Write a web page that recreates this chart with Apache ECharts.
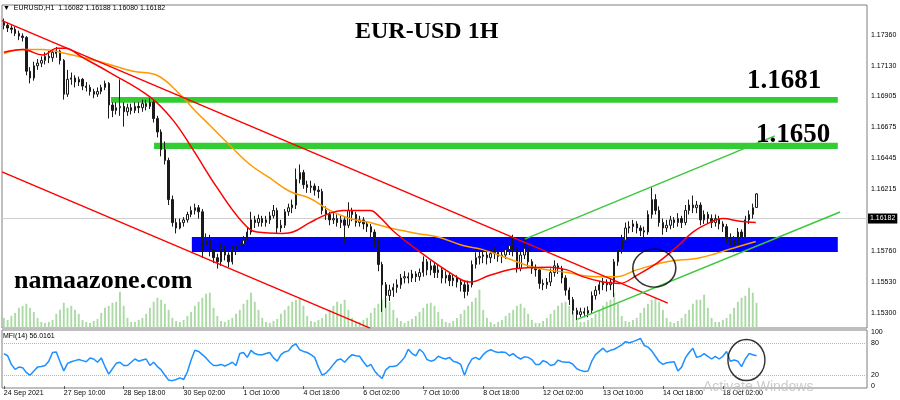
<!DOCTYPE html>
<html><head><meta charset="utf-8">
<script src="https://cdn.jsdelivr.net/npm/echarts@6/dist/echarts.min.js"></script>
<style>html,body{margin:0;padding:0;background:#fff}#c{width:900px;height:400px}</style>
</head><body><div id="c"></div>
<script>
// ---------- data ----------
const slotCount = 231;            // 2-hour slots on the time axis (incl. empty right shift)
const timeLabelStep = 16;         // a time label every 16 slots (32 hours)
const timeLabels = ["24 Sep 2021","27 Sep 10:00","28 Sep 18:00","30 Sep 02:00","1 Oct 10:00","4 Oct 18:00","6 Oct 02:00","7 Oct 10:00","8 Oct 18:00","12 Oct 02:00","13 Oct 10:00","14 Oct 18:00","18 Oct 02:00"];
const priceTicks = [1.17360,1.17130,1.16905,1.16675,1.16445,1.16215,1.15990,1.15760,1.15530,1.15300];
const priceMin = 1.1519, priceMax = 1.1758;
const mfiTicks = [0,20,80,100];
const headerText = "\u25BC  EURUSD,H1  1.16082 1.16188 1.16080 1.16182";
const mfiText = "MFI(14) 56.0161";
const lastPrice = 1.16182;

// [open, close, low, high]
const candles = [
[1.1745,1.1743,1.1740,1.1748],[1.1743,1.1741,1.1738,1.1745],[1.1741,1.1740,1.1737,1.1743],[1.1740,1.1737,1.1735,1.1742],
[1.1737,1.1735,1.1732,1.1739],[1.1735,1.1734,1.1731,1.1737],[1.1734,1.1709,1.1706,1.1735],[1.1709,1.1704,1.1700,1.1712],
[1.1704,1.1713,1.1702,1.1716],[1.1713,1.1715,1.1710,1.1718],[1.1715,1.1717,1.1712,1.1720],[1.1717,1.1720,1.1714,1.1723],
[1.1720,1.1719,1.1715,1.1724],[1.1719,1.1723,1.1716,1.1725],[1.1722,1.1724,1.1719,1.1727],[1.1724,1.1717,1.1714,1.1725],
[1.1717,1.1692,1.1688,1.1718],[1.1692,1.1703,1.1690,1.1710],[1.1703,1.1704,1.1699,1.1708],[1.1704,1.1701,1.1697,1.1706],
[1.1701,1.1703,1.1698,1.1705],[1.1703,1.1698,1.1695,1.1704],[1.1698,1.1697,1.1694,1.1701],[1.1697,1.1694,1.1691,1.1699],
[1.1694,1.1692,1.1689,1.1696],[1.1692,1.1694,1.1690,1.1697],[1.1694,1.1697,1.1692,1.1699],[1.1697,1.1700,1.1695,1.1702],
[1.1700,1.1684,1.1674,1.1701],[1.1684,1.1680,1.1675,1.1686],[1.1680,1.1682,1.1677,1.1686],[1.1682,1.1683,1.1676,1.1703],
[1.1683,1.1679,1.1668,1.1686],[1.1679,1.1682,1.1676,1.1685],[1.1682,1.1680,1.1677,1.1685],[1.1680,1.1683,1.1678,1.1686],
[1.1683,1.1682,1.1678,1.1686],[1.1682,1.1685,1.1679,1.1688],[1.1685,1.1683,1.1680,1.1688],[1.1683,1.1686,1.1681,1.1689],
[1.1686,1.1674,1.1671,1.1688],[1.1674,1.1664,1.1660,1.1676],[1.1664,1.1651,1.1646,1.1666],[1.1651,1.1643,1.1640,1.1657],
[1.1643,1.1614,1.1610,1.1645],[1.1614,1.1597,1.1594,1.1617],[1.1597,1.1593,1.1589,1.1600],[1.1593,1.1597,1.1592,1.1600],
[1.1597,1.1599,1.1594,1.1601],[1.1599,1.1603,1.1597,1.1605],[1.1603,1.1606,1.1601,1.1609],[1.1606,1.1608,1.1603,1.1611],
[1.1608,1.1605,1.1600,1.1610],[1.1605,1.1580,1.1571,1.1607],[1.1580,1.1584,1.1576,1.1589],[1.1584,1.1577,1.1572,1.1588],
[1.1577,1.1571,1.1567,1.1580],[1.1571,1.1568,1.1563,1.1574],[1.1568,1.1578,1.1565,1.1582],[1.1578,1.1573,1.1569,1.1580],
[1.1573,1.1568,1.1564,1.1575],[1.1568,1.1577,1.1566,1.1580],[1.1577,1.1580,1.1573,1.1583],[1.1580,1.1581,1.1576,1.1584],
[1.1581,1.1584,1.1578,1.1587],[1.1584,1.1590,1.1580,1.1593],[1.1590,1.1599,1.1588,1.1605],[1.1599,1.1597,1.1593,1.1602],
[1.1597,1.1600,1.1594,1.1603],[1.1600,1.1597,1.1594,1.1602],[1.1597,1.1599,1.1594,1.1602],[1.1599,1.1602,1.1596,1.1605],
[1.1602,1.1606,1.1600,1.1610],[1.1606,1.1593,1.1589,1.1608],[1.1593,1.1595,1.1590,1.1599],[1.1595,1.1605,1.1593,1.1607],
[1.1605,1.1608,1.1602,1.1611],[1.1608,1.1610,1.1604,1.1614],[1.1610,1.1629,1.1607,1.1637],[1.1629,1.1634,1.1626,1.1640],
[1.1634,1.1625,1.1622,1.1636],[1.1625,1.1623,1.1619,1.1628],[1.1623,1.1624,1.1619,1.1628],[1.1624,1.1621,1.1617,1.1626],
[1.1621,1.1620,1.1615,1.1624],[1.1620,1.1606,1.1603,1.1622],[1.1606,1.1603,1.1599,1.1609],[1.1603,1.1599,1.1595,1.1605],
[1.1599,1.1600,1.1596,1.1604],[1.1600,1.1597,1.1594,1.1603],[1.1597,1.1599,1.1593,1.1602],[1.1599,1.1595,1.1582,1.1601],
[1.1595,1.1606,1.1593,1.1612],[1.1606,1.1603,1.1598,1.1608],[1.1603,1.1597,1.1594,1.1605],[1.1597,1.1599,1.1594,1.1602],
[1.1599,1.1596,1.1592,1.1601],[1.1596,1.1594,1.1590,1.1598],[1.1594,1.1590,1.1586,1.1596],[1.1590,1.1583,1.1579,1.1592],
[1.1583,1.1566,1.1561,1.1585],[1.1566,1.1551,1.1531,1.1568],[1.1551,1.1543,1.1534,1.1553],[1.1543,1.1547,1.1539,1.1551],
[1.1547,1.1549,1.1542,1.1552],[1.1549,1.1551,1.1545,1.1555],[1.1551,1.1556,1.1548,1.1559],[1.1556,1.1557,1.1552,1.1561],
[1.1557,1.1556,1.1552,1.1560],[1.1556,1.1559,1.1553,1.1562],[1.1559,1.1557,1.1553,1.1561],[1.1557,1.1560,1.1554,1.1563],
[1.1560,1.1568,1.1557,1.1572],[1.1568,1.1562,1.1558,1.1570],[1.1562,1.1565,1.1558,1.1569],[1.1565,1.1560,1.1556,1.1568],
[1.1560,1.1562,1.1556,1.1566],[1.1562,1.1556,1.1552,1.1564],[1.1556,1.1558,1.1552,1.1561],[1.1558,1.1554,1.1550,1.1560],
[1.1554,1.1556,1.1550,1.1559],[1.1556,1.1553,1.1549,1.1558],[1.1553,1.1551,1.1546,1.1555],[1.1551,1.1546,1.1541,1.1553],
[1.1546,1.1551,1.1543,1.1554],[1.1551,1.1566,1.1549,1.1569],[1.1566,1.1571,1.1563,1.1575],[1.1571,1.1572,1.1566,1.1576],
[1.1572,1.1573,1.1567,1.1577],[1.1573,1.1571,1.1566,1.1576],[1.1571,1.1574,1.1567,1.1577],[1.1574,1.1575,1.1570,1.1579],
[1.1575,1.1572,1.1568,1.1578],[1.1572,1.1573,1.1567,1.1577],[1.1573,1.1577,1.1570,1.1580],[1.1577,1.1580,1.1573,1.1584],
[1.1580,1.1577,1.1572,1.1588],[1.1577,1.1563,1.1560,1.1579],[1.1563,1.1573,1.1561,1.1576],[1.1573,1.1578,1.1570,1.1586],
[1.1578,1.1568,1.1564,1.1580],[1.1568,1.1563,1.1559,1.1570],[1.1563,1.1562,1.1557,1.1566],[1.1562,1.1552,1.1548,1.1564],
[1.1552,1.1551,1.1547,1.1555],[1.1551,1.1553,1.1548,1.1556],[1.1553,1.1560,1.1550,1.1563],[1.1560,1.1565,1.1557,1.1569],
[1.1565,1.1563,1.1559,1.1567],[1.1563,1.1556,1.1552,1.1565],[1.1556,1.1547,1.1543,1.1558],[1.1547,1.1540,1.1536,1.1549],
[1.1540,1.1532,1.1529,1.1542],[1.1532,1.1529,1.1525,1.1534],[1.1529,1.1531,1.1527,1.1534],[1.1531,1.1530,1.1527,1.1534],
[1.1530,1.1532,1.1527,1.1535],[1.1532,1.1543,1.1530,1.1546],[1.1543,1.1547,1.1540,1.1550],[1.1547,1.1551,1.1544,1.1554],
[1.1551,1.1553,1.1547,1.1556],[1.1553,1.1551,1.1546,1.1555],[1.1551,1.1553,1.1547,1.1556],[1.1553,1.1568,1.1542,1.1570],
[1.1568,1.1577,1.1565,1.1580],[1.1577,1.1584,1.1574,1.1588],[1.1584,1.1593,1.1582,1.1597],[1.1593,1.1594,1.1589,1.1598],
[1.1594,1.1596,1.1590,1.1599],[1.1596,1.1593,1.1589,1.1598],[1.1593,1.1591,1.1587,1.1595],[1.1591,1.1590,1.1585,1.1594],
[1.1590,1.1603,1.1588,1.1606],[1.1603,1.1614,1.1600,1.1623],[1.1614,1.1606,1.1603,1.1618],[1.1606,1.1597,1.1594,1.1609],
[1.1597,1.1593,1.1588,1.1600],[1.1593,1.1595,1.1590,1.1599],[1.1595,1.1599,1.1592,1.1602],[1.1599,1.1597,1.1593,1.1601],
[1.1597,1.1600,1.1594,1.1604],[1.1600,1.1597,1.1593,1.1602],[1.1597,1.1606,1.1595,1.1610],[1.1606,1.1610,1.1603,1.1614],
[1.1610,1.1608,1.1604,1.1617],[1.1608,1.1610,1.1604,1.1613],[1.1610,1.1599,1.1595,1.1612],[1.1599,1.1603,1.1596,1.1606],
[1.1603,1.1600,1.1596,1.1605],[1.1600,1.1597,1.1593,1.1603],[1.1597,1.1600,1.1594,1.1603],[1.1600,1.1596,1.1592,1.1602],
[1.1596,1.1594,1.1590,1.1598],[1.1594,1.1586,1.1582,1.1596],[1.1586,1.1584,1.1580,1.1589],[1.1584,1.1580,1.1575,1.1587],
[1.1580,1.1590,1.1577,1.1593],[1.1590,1.1586,1.1580,1.1592],[1.1586,1.1599,1.1584,1.1602],[1.1599,1.1603,1.1596,1.1606],
[1.1603,1.1608,1.1600,1.1611],[1.16082,1.16182,1.16080,1.16188]
];

const volumes = [
10,8,12,15,20,22,24,20,16,10,6,
5,6,8,14,18,25,20,22,18,14,8,6,
5,7,9,15,20,22,25,26,36,22,10,6,
6,8,10,14,20,26,30,28,24,18,10,7,
6,8,12,16,22,26,30,34,35,20,12,7,
6,8,10,14,18,24,28,35,26,18,10,6,
5,7,9,14,18,22,26,28,30,22,12,7,
6,8,10,14,18,22,26,24,28,18,10,6,
6,8,10,15,20,24,28,30,26,18,10,7,
5,7,9,12,16,20,24,25,22,16,9,6,
5,7,10,14,18,22,26,30,38,18,10,6,
4,6,8,12,15,18,22,24,20,14,8,5,
5,7,10,14,18,22,25,26,22,16,10,6,
6,8,10,14,18,22,26,28,35,24,12,7,
6,8,10,15,20,24,28,30,26,18,10,6,
5,7,10,14,18,24,28,28,33,20,10,6,
6,8,10,14,20,26,30,32,40,35,25
];

const mfi = [
60,56,40,31,35,34,25,20,28,35,36,38,46,62,63,45,28,42,45,47,
49,47,45,52,50,44,52,36,22,32,42,44,38,38,44,50,46,48,50,38,
44,36,30,20,11,10,12,15,12,26,48,66,64,58,52,44,38,38,40,37,
40,44,38,60,62,53,66,60,58,58,60,62,52,46,58,63,65,74,78,67,
64,62,58,53,35,20,24,31,40,48,50,44,52,58,56,55,45,36,40,28,
20,14,30,36,36,38,45,53,68,60,56,68,62,49,46,48,55,52,50,53,
46,44,40,20,38,50,53,49,58,64,67,64,62,63,62,56,60,54,50,54,
53,49,40,40,47,44,38,40,48,45,44,44,40,32,29,27,28,46,58,64,
70,63,66,68,72,76,82,80,82,85,88,75,72,65,55,45,40,43,44,45,
28,35,52,62,70,53,55,60,55,50,55,50,55,64,46,48,46,36,50,60,
58,56
];

// moving averages: [slot, price]
const maFast = [[0,1.1723],[5.1,1.1725],[10.4,1.1721],[14.2,1.1726],[16.3,1.1726],[21.1,1.1719],[28.3,1.1708],[39,1.1690],
[45.1,1.1673],[50.5,1.1651],[56.9,1.1623],[63.8,1.1597],[67.6,1.1590],[74.5,1.1589],[77.2,1.1590],[81.7,1.1597],[87.1,1.1604],
[90.5,1.1606],[97.8,1.1606],[100.4,1.1601],[103.9,1.1591],[110.3,1.1577],[119.1,1.1560],[124.5,1.1553],[129.8,1.1558],
[137,1.1563],[145.8,1.1564],[150.4,1.1562],[154.6,1.1557],[160,1.1553],[164.5,1.1552],[169,1.1558],[174.4,1.1567],
[179.7,1.1579],[184,1.1590],[188.5,1.1597],[192,1.1600],[196.6,1.1598],[200.8,1.1597]];
const maSlow = [[0,1.1722],[5.1,1.1725],[10.4,1.1725],[15,1.1723],[25.7,1.1716],[34.5,1.1709],[40.9,1.1706],[47,1.1692],
[51,1.1680],[55,1.1669],[60.4,1.1654],[65.7,1.1640],[71,1.1630],[76.4,1.1620],[81.7,1.1615],[87.1,1.1606],[92.4,1.1600],
[97.8,1.1597],[103.1,1.1593],[110.3,1.1589],[116.4,1.1586],[122.6,1.1580],[127.9,1.1577],[137,1.1568],[141.3,1.1564],
[150.4,1.1560],[158.4,1.1557],[163.7,1.1557],[169,1.1562],[177.1,1.1568],[185.9,1.1571],[194.7,1.1578],[200.8,1.1583]];

// trend lines: [slot, price]
const redChannelUpper = [[-0.5,1.17464],[177.3,1.15374]];
const redChannelLower = [[-0.5,1.16345],[97.8,1.15189]];
const greenChannelUpper = [[139.1,1.15848],[205.9,1.16612]];
const greenChannelLower = [[153.3,1.15256],[223.3,1.16048]];

// zones: [fromSlot, toSlot, lowPrice, highPrice]
const resistance1681 = [28.6,222.7,1.16856,1.16900];
const resistance1650 = [40.1,222.7,1.16515,1.16560];
const supportZone = [50.2,222.7,1.15752,1.15863];

// circled spots
const circledPrice = [[173.7,1.15633]];
const circledMfi = [[198.3,48]];

// ---------- chart ----------
const slots = Array.from({length: slotCount}, (_, i) => String(i));
const isLabelSlot = i => i % timeLabelStep === 0 && (i / timeLabelStep) < timeLabels.length;
const zone = (z, color) => [{coord:[z[0], z[3]], itemStyle:{color}}, {coord:[z[1], z[2]]}];
const FONT = 'Liberation Sans, Arial, sans-serif';
const SERIF = 'Liberation Serif, Times New Roman, serif';

const chart = echarts.init(document.getElementById('c'), null, {renderer: 'canvas'});
chart.setOption({
  animation: false,
  backgroundColor: '#ffffff',
  textStyle: {fontFamily: FONT},
  title: [
    {text: headerText, left: 3, top: 5, padding: 0, textStyle: {fontSize: 7, fontWeight: 'normal', color: '#000', fontFamily: FONT}},
    {text: 'EUR-USD 1H', left: 355, top: 20, padding: 0, textStyle: {fontSize: 24, fontWeight: 'bold', color: '#000', fontFamily: SERIF}},
    {text: '1.1681', left: 747, top: 68, padding: 0, textStyle: {fontSize: 27, fontWeight: 'bold', color: '#000', fontFamily: SERIF}},
    {text: '1.1650', left: 756, top: 122, padding: 0, textStyle: {fontSize: 27, fontWeight: 'bold', color: '#000', fontFamily: SERIF}},
    {text: 'namaazone.com', left: 14, top: 268, padding: 0, textStyle: {fontSize: 26, fontWeight: 'bold', color: '#000', fontFamily: SERIF}},
    {text: mfiText, left: 3, top: 333, padding: 0, textStyle: {fontSize: 7, fontWeight: 'normal', color: '#000', fontFamily: FONT}},
    {text: 'Activate Windows', left: 703, top: 380, padding: 0, textStyle: {fontSize: 14, fontWeight: 'normal', color: 'rgba(190,190,190,0.8)', fontFamily: FONT}}
  ],
  grid: [
    {left: 2, right: 33, top: 5, height: 323, show: true, borderColor: '#7f7f7f', borderWidth: 1, backgroundColor: 'transparent'},
    {left: 2, right: 33, top: 330, height: 58, show: true, borderColor: '#7f7f7f', borderWidth: 1, backgroundColor: 'transparent'}
  ],
  xAxis: [
    {type: 'category', gridIndex: 0, data: slots, boundaryGap: true, axisLine: {show: false}, axisTick: {show: false}, axisLabel: {show: false}, splitLine: {show: false}},
    {type: 'value', gridIndex: 0, min: -0.5, max: slotCount - 0.5, show: false},
    {type: 'category', gridIndex: 1, data: slots, boundaryGap: true, axisLine: {show: false},
      axisTick: {show: true, alignWithLabel: true, interval: i => isLabelSlot(i), length: 3, lineStyle: {color: '#555'}},
      axisLabel: {interval: i => isLabelSlot(i), formatter: (v, i) => timeLabels[Math.round(i / timeLabelStep)], align: 'left', fontSize: 7, color: '#000', margin: 2, fontFamily: FONT},
      splitLine: {show: false}},
    {type: 'value', gridIndex: 1, min: -0.5, max: slotCount - 0.5, show: false}
  ],
  yAxis: [
    {type: 'value', gridIndex: 0, position: 'right', min: priceMin, max: priceMax, axisLine: {show: false},
      axisTick: {show: false},
      axisLabel: {customValues: priceTicks, formatter: v => v.toFixed(5), fontSize: 7, color: '#000', margin: 4, fontFamily: FONT},
      splitLine: {show: false}},
    {type: 'value', gridIndex: 0, min: 0, max: 320, show: false},
    {type: 'value', gridIndex: 1, position: 'right', min: -3.6, max: 103.6, axisLine: {show: false},
      axisTick: {show: false},
      axisLabel: {customValues: mfiTicks, fontSize: 7, color: '#000', margin: 4, fontFamily: FONT},
      splitLine: {show: false}}
  ],
  series: [
    {type: 'line', name: 'zones', xAxisIndex: 1, yAxisIndex: 0, data: [], silent: true, z: 1,
      markArea: {silent: true, z: 1, data: [zone(resistance1681, '#32cd32'), zone(resistance1650, '#32cd32'), zone(supportZone, '#0000ff')]}},
    {type: 'bar', name: 'Volume', xAxisIndex: 0, yAxisIndex: 1, data: volumes, barWidth: '50%', silent: true, z: 1,
      itemStyle: {color: '#abdaa5'}},
    {type: 'candlestick', name: 'EURUSD', xAxisIndex: 0, yAxisIndex: 0, data: candles, barWidth: '50%', z: 3,
      itemStyle: {color: '#ffffff', color0: '#1a1a1a', borderColor: '#1a1a1a', borderColor0: '#1a1a1a', borderWidth: 1},
      markLine: {silent: true, z: 1, symbol: 'none', data: [{yAxis: lastPrice}],
        lineStyle: {color: '#cfcfcf', width: 1, type: 'solid'},
        label: {position: 'end', distance: 1, formatter: () => lastPrice.toFixed(5), backgroundColor: '#000', color: '#fff', padding: [2, 2, 1, 2], fontSize: 7, fontFamily: FONT}}},
    {type: 'line', name: 'MA slow', xAxisIndex: 1, yAxisIndex: 0, data: maSlow, smooth: 0.4, showSymbol: false, z: 4,
      lineStyle: {color: '#ff9a00', width: 1.5}},
    {type: 'line', name: 'MA fast', xAxisIndex: 1, yAxisIndex: 0, data: maFast, smooth: 0.4, showSymbol: false, z: 5,
      lineStyle: {color: '#ff0000', width: 1.5}},
    {type: 'line', name: 'red channel upper', xAxisIndex: 1, yAxisIndex: 0, data: redChannelUpper, showSymbol: false, z: 5, lineStyle: {color: '#ff0000', width: 1.5}},
    {type: 'line', name: 'red channel lower', xAxisIndex: 1, yAxisIndex: 0, data: redChannelLower, showSymbol: false, z: 5, lineStyle: {color: '#ff0000', width: 1.5}},
    {type: 'line', name: 'green channel upper', xAxisIndex: 1, yAxisIndex: 0, data: greenChannelUpper, showSymbol: false, z: 5, lineStyle: {color: '#3cc83c', width: 1.5}},
    {type: 'line', name: 'green channel lower', xAxisIndex: 1, yAxisIndex: 0, data: greenChannelLower, showSymbol: false, z: 5, lineStyle: {color: '#3cc83c', width: 1.5}},
    {type: 'scatter', name: 'circle', xAxisIndex: 1, yAxisIndex: 0, data: circledPrice, symbol: 'circle', symbolSize: [43, 38], z: 6, silent: true,
      itemStyle: {color: 'rgba(0,0,0,0)', borderColor: '#000', borderWidth: 1.5}},
    {type: 'line', name: 'MFI', xAxisIndex: 2, yAxisIndex: 2, data: mfi, showSymbol: false, z: 4,
      lineStyle: {color: '#1e90ff', width: 1.5},
      markLine: {silent: true, symbol: 'none', z: 1, data: [{yAxis: 20}, {yAxis: 80}], label: {show: false},
        lineStyle: {color: '#b4b4b4', width: 1, type: 'dotted'}}},
    {type: 'scatter', name: 'circle mfi', xAxisIndex: 3, yAxisIndex: 2, data: circledMfi, symbol: 'circle', symbolSize: [37, 41], z: 6, silent: true,
      itemStyle: {color: 'rgba(0,0,0,0)', borderColor: '#000', borderWidth: 1.5}}
  ]
});
</script>
</body></html>
